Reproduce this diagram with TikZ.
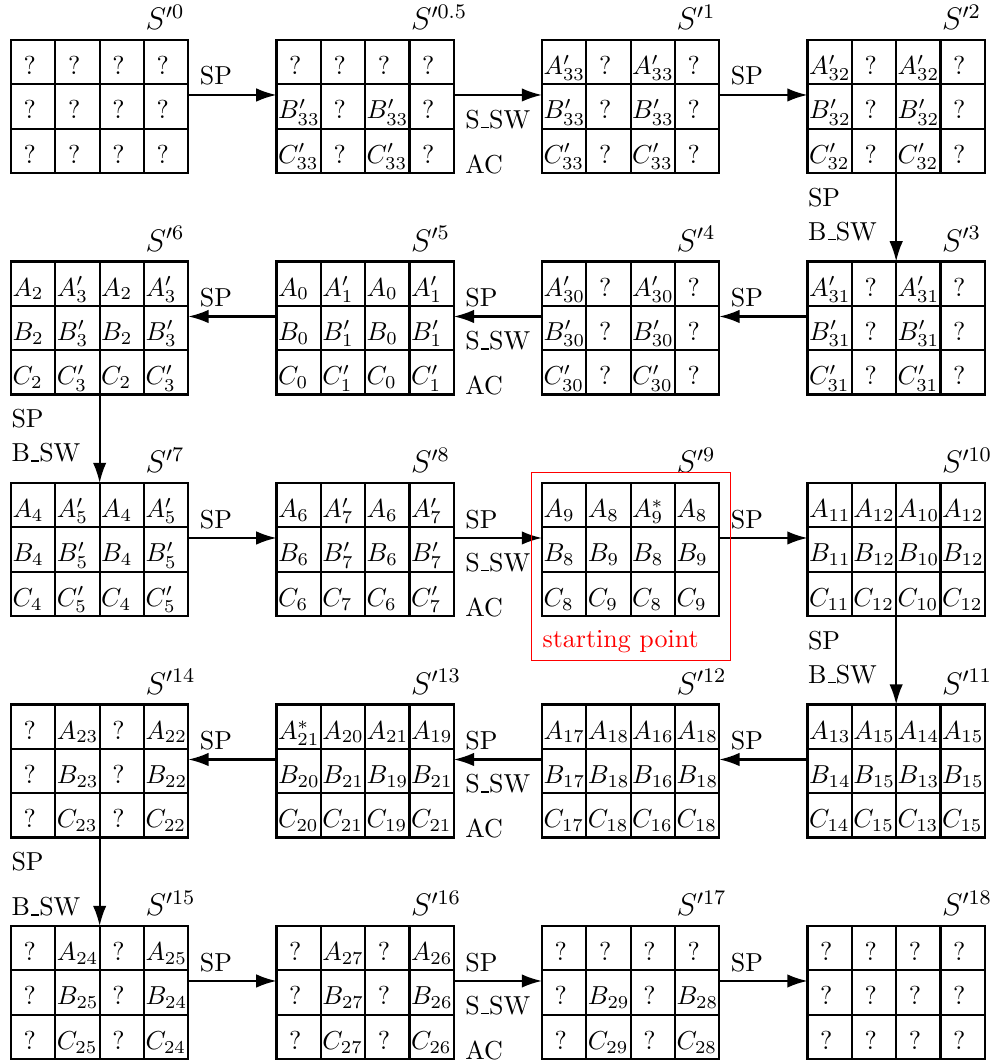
\documentclass[tikz,border=0pt]{standalone}
\usetikzlibrary{arrows.meta}
\newcommand\qm{\hspace*{4.3pt}?}
\newcommand\usc{\leavevmode\kern.06em\vbox{\hrule width.3em}}
\tikzset{
  px/.style={x=0.013535cm,y=-0.013535cm},
  tablebox/.style={draw, thick, minimum width=2.4cm, minimum height=1.8cm, inner sep=0pt, outer sep=0pt, anchor=north west},
  cell/.style={inner sep=0pt, anchor=base west, execute at begin node=$, execute at end node=$},
  lbl/.style={inner sep=0pt, anchor=base west},
  statelbl/.style={inner sep=0pt, anchor=base west, font=\large},
  arr/.style={thick, -{Latex[length=7.8pt,width=5.2pt]}},
}
% name, left, top, superscript, row1, row2, row3
\newcommand\mytable[7]{%
  \node[tablebox] (#1) at (#2,#3) {};
  \foreach \k in {1,2,3} \draw[thick] ([xshift=\k*0.6cm]#1.north west) -- ([xshift=\k*0.6cm]#1.south west);
  \foreach \k in {1,2} \draw[thick] ([yshift=-\k*0.6cm]#1.north west) -- ([yshift=-\k*0.6cm]#1.north east);
  \node[statelbl] (#1lab) at (#2+134,#3-10.5) {$S'^{#4}$};
  \foreach \c [count=\i from 0] in {#5} \node[cell] (#1ra\i) at (#2+1+44.33*\i,#3+34.5) {\c};
  \foreach \c [count=\i from 0] in {#6} \node[cell] (#1rb\i) at (#2+1+44.33*\i,#3+78.83) {\c};
  \foreach \c [count=\i from 0] in {#7} \node[cell] (#1rc\i) at (#2+1+44.33*\i,#3+123.16) {\c};
}
\begin{document}
\begin{tikzpicture}[px]
\useasboundingbox (0,0) rectangle (1000,1061);
% row 1
\mytable{s0}{11}{40}{0}{\qm,\qm,\qm,\qm}{\qm,\qm,\qm,\qm}{\qm,\qm,\qm,\qm}
\mytable{s05}{276.5}{40}{0.5}{\qm,\qm,\qm,\qm}{B'_{33},\qm,B'_{33},\qm}{C'_{33},\qm,C'_{33},\qm}
\mytable{s1}{542}{40}{1}{A'_{33},\qm,A'_{33},\qm}{B'_{33},\qm,B'_{33},\qm}{C'_{33},\qm,C'_{33},\qm}
\mytable{s2}{807.5}{40}{2}{A'_{32},\qm,A'_{32},\qm}{B'_{32},\qm,B'_{32},\qm}{C'_{32},\qm,C'_{32},\qm}
% row 2
\mytable{s6}{11}{261.5}{6}{A_2,A'_3,A_2,A'_3}{B_2,B'_3,B_2,B'_3}{C_2,C'_3,C_2,C'_3}
\mytable{s5}{276.5}{261.5}{5}{A_0,A'_1,A_0,A'_1}{B_0,B'_1,B_0,B'_1}{C_0,C'_1,C_0,C'_1}
\mytable{s4}{542}{261.5}{4}{A'_{30},\qm,A'_{30},\qm}{B'_{30},\qm,B'_{30},\qm}{C'_{30},\qm,C'_{30},\qm}
\mytable{s3}{807.5}{261.5}{3}{A'_{31},\qm,A'_{31},\qm}{B'_{31},\qm,B'_{31},\qm}{C'_{31},\qm,C'_{31},\qm}
% row 3
\mytable{s7}{11}{483}{7}{A_4,A'_5,A_4,A'_5}{B_4,B'_5,B_4,B'_5}{C_4,C'_5,C_4,C'_5}
\mytable{s8}{276.5}{483}{8}{A_6,A'_7,A_6,A'_7}{B_6,B'_7,B_6,B'_7}{C_6,C_7,C_6,C'_7}
\mytable{s9}{542}{483}{9}{A_9,A_8,A^*_9,A_8}{B_8,B_9,B_8,B_9}{C_8,C_9,C_8,C_9}
\mytable{s10}{807.5}{483}{10}{A_{11},A_{12},A_{10},A_{12}}{B_{11},B_{12},B_{10},B_{12}}{C_{11},C_{12},C_{10},C_{12}}
% row 4
\mytable{s14}{11}{704.5}{14}{\qm,A_{23},\qm,A_{22}}{\qm,B_{23},\qm,B_{22}}{\qm,C_{23},\qm,C_{22}}
\mytable{s13}{276.5}{704.5}{13}{A^*_{21},A_{20},A_{21},A_{19}}{B_{20},B_{21},B_{19},B_{21}}{C_{20},C_{21},C_{19},C_{21}}
\mytable{s12}{542}{704.5}{12}{A_{17},A_{18},A_{16},A_{18}}{B_{17},B_{18},B_{16},B_{18}}{C_{17},C_{18},C_{16},C_{18}}
\mytable{s11}{807.5}{704.5}{11}{A_{13},A_{15},A_{14},A_{15}}{B_{14},B_{15},B_{13},B_{15}}{C_{14},C_{15},C_{13},C_{15}}
% row 5
\mytable{s15}{11}{926}{15}{\qm,A_{24},\qm,A_{25}}{\qm,B_{25},\qm,B_{24}}{\qm,C_{25},\qm,C_{24}}
\mytable{s16}{276.5}{926}{16}{\qm,A_{27},\qm,A_{26}}{\qm,B_{27},\qm,B_{26}}{\qm,C_{27},\qm,C_{26}}
\mytable{s17}{542}{926}{17}{\qm,\qm,\qm,\qm}{\qm,B_{29},\qm,B_{28}}{\qm,C_{29},\qm,C_{28}}
\mytable{s18}{807.5}{926}{18}{\qm,\qm,\qm,\qm}{\qm,\qm,\qm,\qm}{\qm,\qm,\qm,\qm}

% horizontal arrows
\draw[arr] ([yshift=-0.744cm]s0.north east) -- ([yshift=-0.744cm]s05.north west);
\draw[arr] ([yshift=-0.744cm]s05.north east) -- ([yshift=-0.744cm]s1.north west);
\draw[arr] ([yshift=-0.744cm]s1.north east) -- ([yshift=-0.744cm]s2.north west);
\draw[arr] ([yshift=-0.744cm]s3.north west) -- ([yshift=-0.744cm]s4.north east);
\draw[arr] ([yshift=-0.744cm]s4.north west) -- ([yshift=-0.744cm]s5.north east);
\draw[arr] ([yshift=-0.744cm]s5.north west) -- ([yshift=-0.744cm]s6.north east);
\draw[arr] ([yshift=-0.744cm]s7.north east) -- ([yshift=-0.744cm]s8.north west);
\draw[arr] ([yshift=-0.744cm]s8.north east) -- ([yshift=-0.744cm]s9.north west);
\draw[arr] ([yshift=-0.744cm]s9.north east) -- ([yshift=-0.744cm]s10.north west);
\draw[arr] ([yshift=-0.744cm]s11.north west) -- ([yshift=-0.744cm]s12.north east);
\draw[arr] ([yshift=-0.744cm]s12.north west) -- ([yshift=-0.744cm]s13.north east);
\draw[arr] ([yshift=-0.744cm]s13.north west) -- ([yshift=-0.744cm]s14.north east);
\draw[arr] ([yshift=-0.744cm]s15.north east) -- ([yshift=-0.744cm]s16.north west);
\draw[arr] ([yshift=-0.744cm]s16.north east) -- ([yshift=-0.744cm]s17.north west);
\draw[arr] ([yshift=-0.744cm]s17.north east) -- ([yshift=-0.744cm]s18.north west);
% vertical arrows
\draw[arr] ([xshift=1.2cm]s2.south west) -- ([xshift=1.2cm]s3.north west);
\draw[arr] ([xshift=1.2cm]s6.south west) -- ([xshift=1.2cm]s7.north west);
\draw[arr] ([xshift=1.2cm]s10.south west) -- ([xshift=1.2cm]s11.north west);
\draw[arr] ([xshift=1.2cm]s14.south west) -- ([xshift=1.2cm]s15.north west);

% arrow labels, row 1
\node[lbl] (a1) at (199.3,85) {SP};
\node[lbl] (a2) at (464.8,128) {S\usc SW};
\node[lbl] (a3) at (464.8,173) {AC};
\node[lbl] (a4) at (730.3,85) {SP};
% row 2
\node[lbl] (b1) at (199.3,306.5) {SP};
\node[lbl] (b2) at (464.8,306.5) {SP};
\node[lbl] (b3) at (464.8,349.5) {S\usc SW};
\node[lbl] (b4) at (464.8,394.5) {AC};
\node[lbl] (b5) at (730.3,306.5) {SP};
% row 3
\node[lbl] (c1) at (199.3,528) {SP};
\node[lbl] (c2) at (464.8,528) {SP};
\node[lbl] (c3) at (464.8,571) {S\usc SW};
\node[lbl] (c4) at (464.8,616) {AC};
\node[lbl] (c5) at (730.3,528) {SP};
% row 4
\node[lbl] (d1) at (199.3,749.5) {SP};
\node[lbl] (d2) at (464.8,749.5) {SP};
\node[lbl] (d3) at (464.8,792.5) {S\usc SW};
\node[lbl] (d4) at (464.8,837.5) {AC};
\node[lbl] (d5) at (730.3,749.5) {SP};
% row 5
\node[lbl] (e1) at (199.3,971) {SP};
\node[lbl] (e2) at (464.8,971) {SP};
\node[lbl] (e3) at (464.8,1014) {S\usc SW};
\node[lbl] (e4) at (464.8,1059) {AC};
\node[lbl] (e5) at (730.3,971) {SP};
% vertical labels
\node[lbl] (v1) at (807.5,206) {SP};
\node[lbl] (v2) at (807.5,240) {B\usc SW};
\node[lbl] (v3) at (11,427.5) {SP};
\node[lbl] (v4) at (11,461.5) {B\usc SW};
\node[lbl] (v5) at (807.5,649) {SP};
\node[lbl] (v6) at (807.5,683) {B\usc SW};
\node[lbl] (v7) at (11,870.5) {SP};
\node[lbl] (v8) at (11,915.5) {B\usc SW};

% starting point frame
\node[draw=red, line width=0.5pt, minimum width=2.693cm, minimum height=2.545cm, inner sep=0pt, anchor=north west] (start) at (531,472) {};
\node[lbl, text=red] (starttxt) at (542,647) {starting point};
\end{tikzpicture}
\end{document}
